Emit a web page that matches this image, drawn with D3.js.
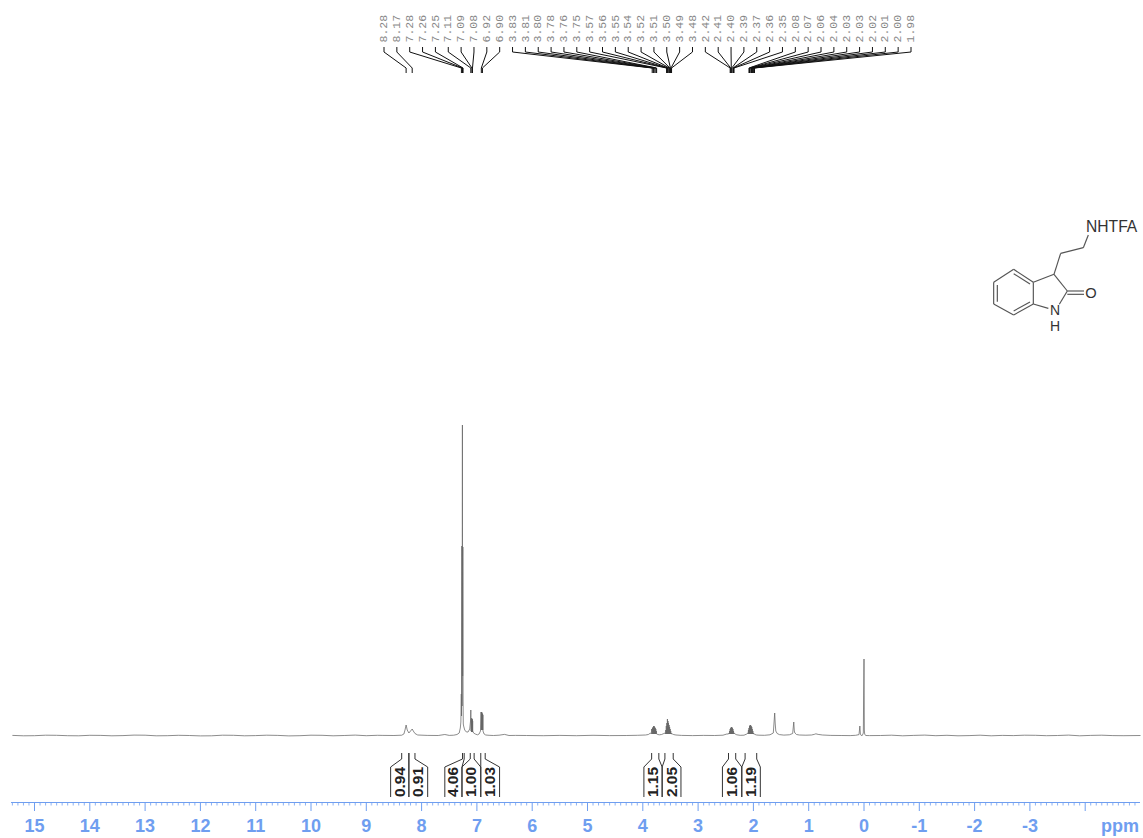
<!DOCTYPE html>
<html><head><meta charset="utf-8">
<script src="https://cdn.jsdelivr.net/npm/d3@7"></script>
<style>html,body{margin:0;padding:0;background:#fff}svg{display:block}</style>
</head><body><svg id="c" width="1143" height="838"></svg>
<script>
// spectrum profile: chemical shift (ppm) and height above baseline
const baselinePpm=[15.4,15.2,15,14.8,14.6,14.4,14.2,14,13.8,13.6,13.4,13.2,13,12.8,12.6,12.4,12.2,12,11.8,11.6,11.4,11.2,11,10.8,10.6,10.4,10.2,10,9.8,9.6,9.4,9.2,9,8.8,8.7,8.5];
const baselineVal=[.6,.2,.3,.8,.7,.3,.2,.7,.6,.2,.4,.9,.8,.2,.3,.7,.5,.1,.2,.8,.7,.2,.4,.8,.6,.1,.3,.8,.7,.2,.5,.9,.3,.7,.6,.5];
const aromaticPpm=[8.36,8.32,8.30,8.28,8.26,8.23,8.20,8.17,8.15,8.12,8.07,7.9,7.7,7.58,7.5,7.42,7.36,7.32,7.30,7.29,7.282,7.278,7.272,7.268,7.262,7.258,7.254,7.25,7.246,7.24,7.22,7.19,7.16,7.13,7.115,7.11,7.105,7.1,7.098,7.094,7.092,7.088,7.086,7.083,7.08,7.077,7.075,7.06,7.03,6.99,6.96,6.935,6.925,6.92,6.917,6.915,6.912,6.91,6.907,6.905,6.902,6.90,6.897,6.895,6.892,6.89,6.87,6.84,6.78,6.7,6.6,6.5,6.42,6.3];
const aromaticVal=[.8,2,6,11,6,3,5,7,5,2.5,1,.6,.5,1.5,.6,.8,1.5,3,8,14,42,20,190,30,311,60,189,36,12,10,6,4,4,7,15,26,5,17,4,18,4,16,4,17,4,15,5,3,2,1.2,2,5,24,6,24,6,24,6,23,6,22,6,22,6,21,5,2,1,.7,.5,.8,1.6,.5,.6];
const flatPpm=[6.1,5.8,5.5,5.2,4.9,4.6,4.3,4.1,3.95,3.9,3.86];
const flatVal=[.5,.3,.6,.3,.7,.4,.5,.7,1,1.5,3];
const m1Ppm=[3.845,3.84,3.83,3.825,3.82,3.815,3.81,3.805,3.8,3.795,3.79,3.785,3.78,3.775,3.77,3.765,3.76,3.755,3.75];
const m1Val=[2,7,2,8,2,9,2,10,2,10,2,9,2,8,2,7,2,5,2];
const gap1Ppm=[3.73,3.7,3.66,3.62,3.6];
const gap1Val=[1.5,1.2,1.5,2.5,3];
const m2Ppm=[3.59,3.585,3.58,3.575,3.57,3.565,3.56,3.555,3.55,3.545,3.54,3.535,3.53,3.525,3.52,3.515,3.51,3.505,3.5,3.495,3.49,3.485,3.48];
const m2Val=[2,6,2,10,2,13,2,17,2,15,2,13,2,11,2,9,2,7,2,5,2,3,2];
const gap2Ppm=[3.465,3.44,3.4,3.3,3.1,2.9,2.7,2.55,2.48,2.45];
const gap2Val=[2,1.4,1,.6,.4,.6,.5,.8,2,2];
const m3Ppm=[2.44,2.435,2.43,2.425,2.42,2.415,2.41,2.405,2.4,2.395,2.39,2.385,2.38,2.375,2.37,2.365,2.36,2.355,2.35];
const m3Val=[3,2,5,2,7,2,8,2,9,2,9,2,8,2,7,2,5,2,3];
const gap3Ppm=[2.33,2.3,2.24,2.17,2.12];
const gap3Val=[2,1.2,.7,.8,2];
const m4Ppm=[2.1,2.095,2.09,2.085,2.08,2.075,2.07,2.065,2.06,2.055,2.05,2.045,2.04,2.035,2.03,2.025,2.02,2.015,2.01,2.005,2,1.995,1.985];
const m4Val=[3,2,6,2,8,2,10,2,11,2,11,2,10,2,9,2,7,2,5,2,3,2,2];
const aliphPpm=[1.97,1.94,1.9,1.8,1.7,1.64,1.615,1.605,1.595,1.57,1.53,1.45,1.35,1.29,1.27,1.26,1.25,1.22,1.17,1.05,.95,.9,.87,.83,.75,.6,.4,.25,.15,.09,.075,.065,.05,.03,.012,.006,0,-.006,-.012,-.03,-.1];
const aliphVal=[1.5,1,.8,.7,1.2,3,23,12,5,2.5,1.4,.9,1.2,2.5,14,5,3,1.5,1,.8,1,1.6,2.2,1.6,1,.6,.5,.4,.7,1.4,10,2,.5,.6,3,44,77,6,2,.5,.4];
const tailPpm=[-.3,-.5,-.7,-.9,-1.1,-1.3,-1.5,-1.7,-1.9,-2.1,-2.3,-2.5,-2.7,-2.9,-3.1,-3.3,-3.5,-3.7,-3.9,-4.1,-4.3,-4.5,-4.7,-5];
const tailVal=[.5,.8,.2,.6,.9,.3,.7,.2,.4,.8,.2,.6,.4,.8,.7,.3,.5,.9,.2,.6,.8,.4,.3,.5];

// peak-pick list
const peakLabels=["8.28","8.17","7.28","7.26","7.25","7.11","7.09","7.08","6.92","6.90","3.83","3.81","3.80","3.78","3.76","3.75","3.57","3.56","3.55","3.54","3.52","3.51","3.50","3.49","3.48","2.42","2.41","2.40","2.39","2.37","2.36","2.35","2.08","2.07","2.06","2.04","2.03","2.03","2.02","2.01","2.00","1.98"];

// integrals: label, the ppm limits of the bracket foot and of its top
const integralLabels=["0.94","0.91","4.06","1.00","1.03","1.15","2.05","1.06","1.19"];
const footLeftPpm=[8.56,8.23,7.58,7.27,6.93,3.98,3.65,2.56,2.21];
const footRightPpm=[8.23,7.89,7.27,6.93,6.59,3.65,3.31,2.21,1.875];
const topLeftPpm=[8.36,8.23,7.26,7.12,6.93,3.84,3.60,2.45,2.15];
const topRightPpm=[8.23,8.12,7.23,7.05,6.85,3.71,3.45,2.32,1.94];

const axisMajor=[15,14,13,12,11,10,9,8,7,6,5,4,3,2,1,0,-1,-2,-3];
const axisUnit="ppm";

// scales
const x=d3.scaleLinear().domain([0,15]).range([864,34.5]);
const y=d3.scaleLinear().domain([0,311]).range([736,425]);
const svg=d3.select("#c");
const blue="#6f9ef0";
const sans="'Liberation Sans',Arial,sans-serif";

// spectrum
const ppm=[baselinePpm,aromaticPpm,flatPpm,m1Ppm,gap1Ppm,m2Ppm,gap2Ppm,m3Ppm,gap3Ppm,m4Ppm,aliphPpm,tailPpm].flat();
const val=[baselineVal,aromaticVal,flatVal,m1Val,gap1Val,m2Val,gap2Val,m3Val,gap3Val,m4Val,aliphVal,tailVal].flat();
const line=d3.line().x(d=>x(d[0])).y(d=>y(d[1]));
svg.append("path").datum(d3.zip(ppm,val)).attr("d",line)
  .attr("fill","none").attr("stroke","#666").attr("stroke-width",.75);

// peak labels and connectors
const lblX=d3.scalePoint().domain(d3.range(peakLabels.length)).range([384,911]);
const pk=svg.append("g");
peakLabels.forEach((t,i)=>{
  const lx=lblX(i), tx=x(+t);
  pk.append("text").attr("transform",`translate(${lx+3.2},42.5) rotate(-90)`)
    .attr("font-family","'Liberation Mono',monospace").attr("font-size",11.5)
    .attr("fill","#888").text(t);
  pk.append("path").attr("d",d3.line()([[lx,47],[lx,52],[tx,68],[tx,73]]))
    .attr("fill","none").attr("stroke","#111").attr("stroke-width",1);
});

// integrals
const ig=svg.append("g");
integralLabels.forEach((t,i)=>{
  const a=x(footLeftPpm[i]), b=x(footRightPpm[i]), c=x(topLeftPpm[i]), d=x(topRightPpm[i]);
  [[a,c],[b,d]].forEach(([f,g])=>{
    ig.append("path").attr("d",d3.line()([[f,797],[f,767],[g,759],[g,753]]))
      .attr("fill","none").attr("stroke","#333").attr("stroke-width",1);
  });
  ig.append("text").attr("transform",`translate(${(a+b)/2+5},782) rotate(-90)`)
    .attr("text-anchor","middle").attr("font-family",sans).attr("font-size",15.5)
    .attr("font-weight","bold").attr("fill","#222").text(t);
});

// axis
const ax=svg.append("g");
ax.append("line").attr("x1",11).attr("x2",1140).attr("y1",802.5).attr("y2",802.5)
  .attr("stroke",blue).attr("stroke-width",1.2);
d3.range(-50,155).forEach(k=>{
  const px=x(k/10);
  if(px<11||px>1140) return;
  const major=k%10===0;
  ax.append("line").attr("x1",px).attr("x2",px).attr("y1",802.5).attr("y2",major?811:805.5)
    .attr("stroke",blue).attr("stroke-width",major?1:.8);
});
axisMajor.forEach(v=>{
  ax.append("text").attr("x",x(v)).attr("y",832).attr("text-anchor","middle")
    .attr("font-family",sans).attr("font-size",18).attr("font-weight","bold")
    .attr("fill",blue).text(v);
});
ax.append("text").attr("x",1120).attr("y",832).attr("text-anchor","middle")
  .attr("font-family",sans).attr("font-size",18).attr("font-weight","bold")
  .attr("fill",blue).text(axisUnit);

// structure drawing (coordinates in zoom units: 3 per pixel, offset 980,205)
const bonds=[[101,193,160,232],[160,232,160,297],[160,297,101,330],[101,330,41,297],[41,297,41,232],[41,232,101,193],
 [52,240,52,290],[101,206,150,237],[101,318,150,291],[160,232,222,208],[222,208,262,258],[262,258,238,298],[160,297,205,310],
 [222,208,242,145],[242,145,310,128],[310,128,325,90],[262,258,312,258],[262,268,312,268]];
const mol=svg.append("g").attr("transform","translate(980,205) scale(0.3333)");
bonds.forEach(b=>mol.append("line").attr("x1",b[0]).attr("y1",b[1]).attr("x2",b[2]).attr("y2",b[3])
  .attr("stroke","#555").attr("stroke-width",3.5));
mol.append("text").attr("x",318).attr("y",80).attr("font-family",sans).attr("font-size",47).attr("fill","#333").text("NHTFA");
[["O",333,279,44],["N",225,330,42],["H",225,378,42]].forEach(l=>{
  mol.append("text").attr("x",l[1]).attr("y",l[2]).attr("text-anchor","middle")
    .attr("font-family",sans).attr("font-size",l[3]).attr("fill","#333").text(l[0]);
});
</script></body></html>
